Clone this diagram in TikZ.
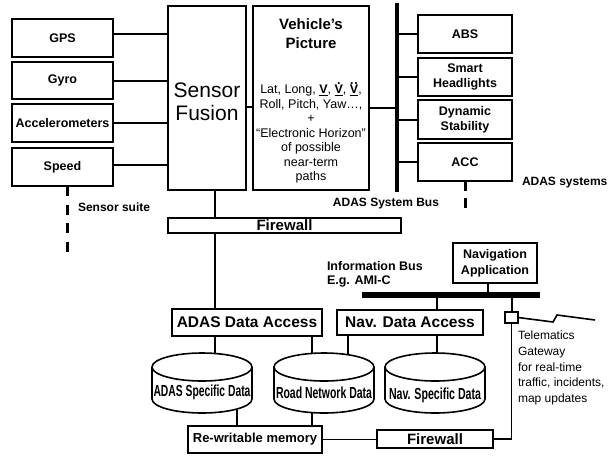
\documentclass[tikz,border=0pt]{standalone}
\usepackage{fontspec}
\setmainfont{Liberation Sans}
\usepackage{graphicx}
\usetikzlibrary{calc}

% font size with explicit leading
\newcommand\fs[2]{\fontsize{#1}{#2}\selectfont}
% underlined bold V, plain, with one dot and with two dots
\newcommand\vecV{\underline{\textbf{V}}}
\newcommand\vecVd{\underline{\ooalign{\textbf{V}\cr\hidewidth\raisebox{0.74em}{\textbf{.}}\hidewidth\cr}}}
\newcommand\vecVdd{\underline{\ooalign{\textbf{V}\cr\hidewidth\raisebox{0.74em}{\textbf{.\kern0.06em.}}\hidewidth\cr}}}
% database cylinder drawn round an empty node
\newcommand\drawcyl[1]{%
  \draw[cylline] ($(#1.north)+(0,14)$) ellipse [x radius=50pt, y radius=14pt];
  \draw[cylline] ($(#1.north west)+(0,14)$) -- ($(#1.south west)+(0,-14)$)
     arc[start angle=180, end angle=360, x radius=50pt, y radius=14pt]
     -- ($(#1.north east)+(0,14)$);}

\begin{document}
\begin{tikzpicture}[x=1pt,y=-1pt,
  every node/.style={inner sep=0pt, outer sep=0pt},
  thickbox/.style={draw, line width=2.6pt, align=center, font=\bfseries\fs{12.5}{15}},
  lowbox/.style={draw, line width=2pt, align=center},
  conn/.style={line width=2pt},
  thinconn/.style={line width=1.7pt},
  busline/.style={line width=4.5pt},
  dashline/.style={line width=3pt, dash pattern=on 10pt off 8.5pt},
  cylline/.style={line width=1.6pt},
  lbl/.style={font=\bfseries\fs{12}{14}},
  cylbox/.style={minimum width=100pt, minimum height=60pt},
]
\fill[white] (0,0) rectangle (608,456);
\useasboundingbox (0,0) rectangle (608,456);

% ---- sensors ----
\node[thickbox, minimum width=101pt, minimum height=38pt] (gps)   at (62.5,38)   {GPS};
\node[thickbox, minimum width=101pt, minimum height=37pt] (gyro)  at (62.5,80.5) {Gyro};
\node[thickbox, minimum width=101pt, minimum height=38pt] (accel) at (62.5,123)  {Accelerometers};
\node[thickbox, minimum width=101pt, minimum height=38pt] (speed) at (62.5,167)  {Speed};

% ---- fusion and vehicle picture ----
\node[thickbox, minimum width=78pt, minimum height=184pt] (fusion) at (207,98) {};
\node[font=\fs{21}{23}, align=center] (fustxt) at (207,101.5) {Sensor\\Fusion};
\node[thickbox, minimum width=116pt, minimum height=184pt] (veh) at (311,98) {};
\node[font=\bfseries\fs{15}{19}, align=center] (vehtitle) at (311,34) {Vehicle’s\\Picture};
\node[font=\fs{12.5}{14.5}, align=center] (vehbody) at (311,134)
  {Lat, Long, \vecV, \vecVd, \vecVdd,\\Roll, Pitch, Yaw…,\\+\\“Electronic Horizon”\\of possible\\near-term\\paths};

\draw[conn] ([yshift=4pt]gps.east) -- ([yshift=4pt]gps.east -| fusion.west);
\draw[conn] (gyro.east) -- (gyro.east -| fusion.west);
\draw[conn] (accel.east) -- (accel.east -| fusion.west);
\draw[conn] ([yshift=2pt]speed.east) -- ([yshift=2pt]speed.east -| fusion.west);
\draw[conn] ([yshift=-9pt]fusion.east) -- ([yshift=-9pt]fusion.east -| veh.west);

% ---- ADAS system bus ----
\coordinate (bustop) at (397,3);
\coordinate (busbot) at (397,192);
\draw[busline] (bustop) -- (busbot);
\draw[conn] ([yshift=-10pt]veh.east) -- ([yshift=-10pt]veh.east -| bustop);

\node[thickbox, minimum width=94pt, minimum height=38pt] (abs) at (465,34)    {ABS};
\node[thickbox, minimum width=94pt, minimum height=38pt] (shl) at (465,77)    {Smart\\Headlights};
\node[thickbox, minimum width=94pt, minimum height=39pt] (dyn) at (465,119.5) {Dynamic\\Stability};
\node[thickbox, minimum width=94pt, minimum height=38pt] (acc) at (465,162)   {ACC};
\foreach \b in {abs,shl,dyn,acc}
  \draw[conn] (\b.west -| bustop) -- (\b.west);

\coordinate (ssend) at (67,252);
\draw[dashline] (speed.south -| ssend) -- (ssend);
\coordinate (asend) at (465,208);
\draw[dashline, dash pattern=on 10pt off 7pt] (acc.south) -- (asend);

\node[lbl, anchor=west] (sslbl) at (78,207) {Sensor suite};
\node[lbl, anchor=west] (aslbl) at (522,183) {ADAS systems};
\node[lbl] (buslbl) at (386,204) {ADAS System Bus};

% ---- firewall to the ADAS side ----
\node[draw, line width=2pt, minimum width=233pt, minimum height=15pt, font=\bfseries\fs{15}{17}] (fw1) at (284.5,225.5) {Firewall};
\coordinate (spine) at (215,0);
\draw[conn] (spine |- fusion.south) -- (spine |- fw1.north);

% ---- information bus ----
\node[lbl, anchor=north west, align=left, font=\bfseries\fs{12.5}{14}] (iblbl) at (327,261) {Information Bus\\E.g. AMI-C};
\coordinate (ib1) at (362,295);
\coordinate (ib2) at (540,295);
\draw[line width=6pt] (ib1) -- (ib2);

\node[lowbox, minimum width=84pt, minimum height=40pt, font=\bfseries\fs{12.5}{16}] (navapp) at (495,263) {Navigation\\Application};
\draw[conn] ([xshift=-7pt]navapp.south) -- ([xshift=-7pt]navapp.south |- ib1);

\node[lowbox, minimum width=150pt, minimum height=27pt, font=\bfseries\fs{15.5}{17}] (adasda) at (247,322.5) {ADAS Data Access};
\node[lowbox, minimum width=146pt, minimum height=25pt, font=\bfseries\fs{15.5}{17}] (navda) at (410,322.5) {Nav. Data Access};
\draw[conn] (spine |- fw1.south) -- (spine |- adasda.north);
\draw[conn] ([xshift=27pt]navda.north) -- ([xshift=27pt]navda.north |- ib1);

% ---- telematics gateway ----
\node[draw, line width=1.5pt, minimum width=13pt, minimum height=11pt] (tgw) at (511.5,317.5) {};
\draw[conn] (tgw.north |- ib1) -- (tgw.north);
\coordinate (zz) at (595,320);
\draw[line width=1.6pt, line join=miter] (tgw.east) -- (553,322) -- (557,315) -- (zz);
\node[anchor=north west, align=left, font=\fs{12}{15.7}] (tgwlbl) at (518,331) {Telematics\\Gateway\\for real-time\\traffic, incidents,\\map updates};

% ---- databases ----
\node[cylbox] (adascyl) at (202,383) {};
\node[cylbox] (roadcyl) at (324,383) {};
\node[cylbox] (navcyl)  at (435,383) {};
\drawcyl{adascyl}
\drawcyl{roadcyl}
\drawcyl{navcyl}
\node[font=\bfseries\fs{16}{18}] (adastxt) at (202,392) {\resizebox{97pt}{\height}{ADAS Specific Data}};
\node[font=\bfseries\fs{16}{18}] (roadtxt) at (324,393) {\resizebox{96pt}{\height}{Road Network Data}};
\node[font=\bfseries\fs{16}{18}] (navtxt)  at (435,395) {\resizebox{92pt}{\height}{Nav. Specific Data}};

\draw[thinconn] ([xshift=13pt]adascyl.north |- adasda.south) -- ([xshift=13pt,yshift=-0.5pt]adascyl.north);
\draw[thinconn] ([xshift=-12pt]roadcyl.north |- adasda.south) -- ([xshift=-12pt,yshift=-0.5pt]roadcyl.north);
\draw[thinconn] ([xshift=24pt]roadcyl.north |- navda.south) -- ([xshift=24pt,yshift=-1.7pt]roadcyl.north);
\draw[thinconn] ([xshift=2pt]navcyl.north |- navda.south) -- ([xshift=2pt]navcyl.north);

% ---- memory and second firewall ----
\node[lowbox, minimum width=134pt, minimum height=27pt, font=\bfseries\fs{13}{15}] (mem) at (255,439.5) {Re-writable memory};
\node[lowbox, minimum width=116pt, minimum height=18pt, font=\bfseries\fs{15}{17}] (fw2) at (435,439) {Firewall};

\draw[thinconn] ([xshift=35pt,yshift=4pt]adascyl.south) -- ([xshift=35pt]adascyl.south |- mem.north);
\draw[thinconn] ([xshift=-12pt]roadcyl.south) -- ([xshift=-12pt]roadcyl.south |- mem.north);
\draw[thinconn] (mem.east) -- (mem.east -| fw2.west);
\draw[thinconn] (tgw.south) |- (fw2.east);
\end{tikzpicture}
\end{document}
